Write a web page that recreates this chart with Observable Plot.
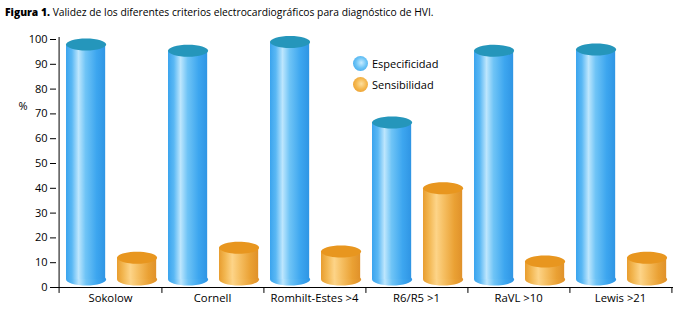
<!DOCTYPE html>
<html>
<head>
<meta charset="utf-8">
<script src="https://cdn.jsdelivr.net/npm/d3@7"></script>
<script src="https://cdn.jsdelivr.net/npm/@observablehq/plot@0.6"></script>
<style>
  html, body { margin: 0; padding: 0; background: #fff; }
  #wrap { position: relative; width: 679px; height: 309px; font-family: "Open Sans", sans-serif; color: #000; }
  #title { height: 22px; line-height: 24px; padding-left: 5px; font-size: 10.3px; white-space: nowrap; }
  #title b { font-weight: 800; }
  .leg { position: absolute; left: 353px; font-size: 11px; display: flex; align-items: center; }
  .ball { width: 15px; height: 15px; border-radius: 50%; margin-right: 4px; }
</style>
</head>
<body>
<div id="wrap">
  <div id="title"><b>Figura 1.</b> Validez de los diferentes criterios electrocardiográficos para diagnóstico de HVI.</div>
  <div id="chart"></div>
  <div class="leg" style="top:56px"><div class="ball" style="background: radial-gradient(circle at 55% 45%, #c8ecff 0%, #6cc4f6 45%, #2f9de8 100%);"></div><span>Especificidad</span></div>
  <div class="leg" style="top:77px"><div class="ball" style="background: radial-gradient(circle at 55% 45%, #fde0a0 0%, #f5b84f 45%, #e6921e 100%);"></div><span>Sensibilidad</span></div>
</div>
<script>
const categories = ["Sokolow", "Cornell", "Romhilt-Estes >4", "R6/R5 >1", "RaVL >10", "Lewis >21"];
const especificidad = [98, 95.5, 99, 66.5, 95.5, 96];
const sensibilidad = [12, 16, 14.5, 40, 10.5, 12];
const yTicks = [0, 10, 20, 30, 40, 50, 60, 70, 80, 90, 100];

const data = categories.map((c, i) => ({cat: c, esp: especificidad[i], sen: sensibilidad[i]}));

const W = 679, ML = 56, MR = 6;
const bw = (W - ML - MR) / categories.length;
const barW = 40;
const blueL = 7, orangeL = 58;
const blueDx = blueL + barW / 2 - bw / 2;
const orangeDx = orangeL + barW / 2 - bw / 2;
const ry = 6, base = 8;

function ellipseSym(rx, ry) {
  return {draw(ctx) {
    const k = 0.5522847498;
    ctx.moveTo(rx, 0);
    ctx.bezierCurveTo(rx, ry * k, rx * k, ry, 0, ry);
    ctx.bezierCurveTo(-rx * k, ry, -rx, ry * k, -rx, 0);
    ctx.bezierCurveTo(-rx, -ry * k, -rx * k, -ry, 0, -ry);
    ctx.bezierCurveTo(rx * k, -ry, rx, -ry * k, rx, 0);
    ctx.closePath();
  }};
}
const ell = ellipseSym(barW / 2, ry);

const svg = Plot.plot({
  width: W,
  height: 287,
  marginLeft: ML,
  marginRight: MR,
  marginTop: 17,
  marginBottom: 22,
  style: {fontFamily: "Open Sans, sans-serif", fontSize: "11px", color: "#000", background: "transparent"},
  x: {domain: categories, padding: 0, axis: null},
  y: {domain: [0, 100], axis: null},
  marks: [
    Plot.dot(data, {x: "cat", y: () => 0, dx: blueDx, dy: -base, symbol: ell, r: 5, fill: "url(#gBlue)", stroke: "none"}),
    Plot.dot(data, {x: "cat", y: () => 0, dx: orangeDx, dy: -base, symbol: ell, r: 5, fill: "url(#gOrange)", stroke: "none"}),
    Plot.barY(data, {x: "cat", y: "esp", insetLeft: blueL, insetRight: bw - blueL - barW, insetBottom: base, fill: "url(#gBlue)"}),
    Plot.barY(data, {x: "cat", y: "sen", insetLeft: orangeL, insetRight: bw - orangeL - barW, insetBottom: base, fill: "url(#gOrange)"}),
    Plot.dot(data, {x: "cat", y: "esp", dx: blueDx, symbol: ell, r: 5, fill: "#2596bb", stroke: "none"}),
    Plot.dot(data, {x: "cat", y: "sen", dx: orangeDx, symbol: ell, r: 5, fill: "#e8961f", stroke: "none"}),
    Plot.ruleY([0], {stroke: "#000", strokeWidth: 1}),
    Plot.ruleX([categories[0]], {x: d => d, dx: -bw / 2, y1: -2.4, y2: 100.8, stroke: "#000"}),
    Plot.ruleX(categories, {x: d => d, dx: bw / 2, y1: 0, y2: -2.4, stroke: "#000"}),
    Plot.axisY(yTicks, {tickSize: 6, tickPadding: 3, label: null, fontSize: 11}),
    Plot.axisX({tickSize: 0, tickPadding: 6, label: null, fontSize: 11.3}),
    Plot.text(["%"], {frameAnchor: "top-left", text: d => d, dx: -38, dy: 63, fontSize: 11})
  ]
});

const defs = `
<defs>
  <linearGradient id="gBlue" x1="0" x2="1" y1="0" y2="0">
    <stop offset="0" stop-color="#3aa4ee"/>
    <stop offset="0.15" stop-color="#5ab8f4"/>
    <stop offset="0.32" stop-color="#bde6fd"/>
    <stop offset="0.5" stop-color="#6fc4f6"/>
    <stop offset="0.78" stop-color="#3da6ef"/>
    <stop offset="1" stop-color="#2f95e4"/>
  </linearGradient>
  <linearGradient id="gOrange" x1="0" x2="1" y1="0" y2="0">
    <stop offset="0" stop-color="#e89d2f"/>
    <stop offset="0.15" stop-color="#f2b650"/>
    <stop offset="0.34" stop-color="#fdd488"/>
    <stop offset="0.52" stop-color="#f6c064"/>
    <stop offset="0.8" stop-color="#eaa134"/>
    <stop offset="1" stop-color="#e0912a"/>
  </linearGradient>
</defs>`;
d3.select(svg).insert("g", ":first-child").html(defs);
document.getElementById("chart").appendChild(svg);
</script>
</body>
</html>
